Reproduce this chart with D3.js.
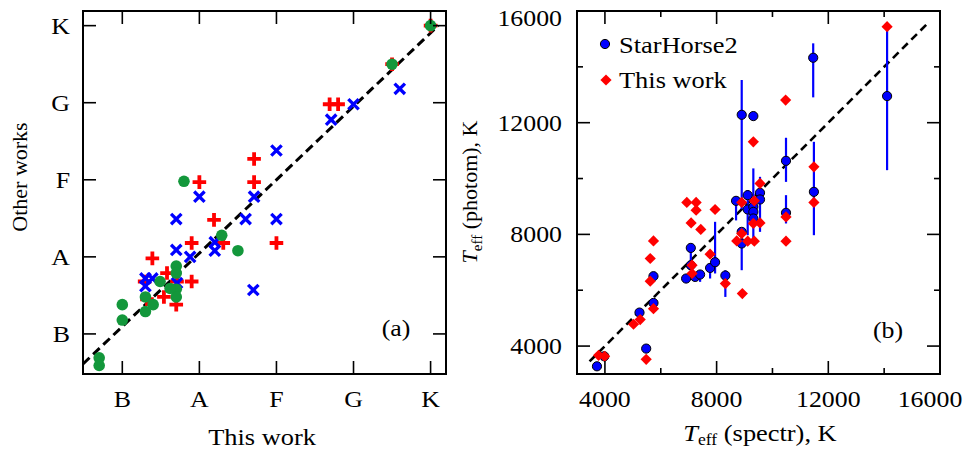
<!DOCTYPE html>
<html><head><meta charset="utf-8">
<script src="https://cdn.jsdelivr.net/npm/d3@7"></script>
<style>
html,body{margin:0;padding:0;background:#fff;}
text{font-family:"Liberation Serif","Times New Roman",serif;fill:#000;}
</style></head>
<body><svg id="c" width="966" height="451"></svg>
<script>
// ---------- data: panel (a) spectral classes (B=1, A=2, F=3, G=4, K=5) ----------
const classLabels = ["B","A","F","G","K"];
const classTicks = [1,2,3,4,5];
// [this work, other works]
const greenPts = [[0.70,0.69],[0.70,0.59],[1.0,1.38],[1.0,1.18],[1.30,1.48],[1.30,1.29],[1.40,1.38],
  [1.49,1.68],[1.70,1.88],[1.70,1.79],[1.70,1.58],[1.70,1.48],[1.62,1.59],[1.80,2.98],[2.29,2.28],
  [2.50,2.08],[4.50,4.50],[5.0,5.0]];
const redPts = [[1.29,1.68],[1.32,1.45],[1.39,1.98],[1.54,1.48],[1.58,1.79],[1.70,1.38],[1.71,1.68],
  [1.90,1.68],[1.90,2.18],[2.00,2.97],[2.19,2.48],[2.31,2.18],[2.71,3.27],[2.71,2.97],[3.0,2.18],
  [3.69,3.98],[3.80,3.98],[4.5,4.5],[5.0,5.0]];
const bluePts = [[1.30,1.72],[1.30,1.62],[1.39,1.72],[1.71,1.66],[1.70,2.09],[1.88,2.0],[2.00,2.78],
  [1.70,2.49],[2.20,2.19],[2.20,2.08],[2.60,2.49],[2.71,2.78],[2.70,1.57],[3.0,2.49],[3.0,3.38],
  [3.71,3.78],[4.0,3.98],[4.60,4.18]];
const lineA = [[0.49,0.61],[5.1,5.0]];

// ---------- data: panel (b) Teff ----------
const teffTicks = [4000,8000,12000,16000];
const teffMinor = [6000,10000,14000];
// StarHorse2: [Teff spectr, Teff photom, err low, err high]
const starHorse = [
  [3715,3276,null,null],[3976,3634,null,null],[5238,5200,null,null],[5478,3910,null,null],
  [5739,5545,null,null],[5739,6502,null,null],[6908,6419,null,null],[7076,7516,6896,7600],
  [7076,6896,null,null],[7230,6477,null,null],[7408,6563,6300,6650],[7766,6799,6420,6800],
  [7945,7004,6600,8450],[8313,6527,5760,6717],[8696,9201,8500,9201],[8899,12283,8900,13530],
  [8899,8090,null,null],[8899,7674,6717,8090],[9113,9405,7971,9584],[9113,8892,null,null],
  [9315,12237,null,null],[9315,8986,7792,10363],[9315,8806,null,null],[9315,8569,null,null],
  [9554,9488,null,null],[9554,9250,8090,10061],[10485,10634,9880,11460],[10485,8771,8391,9405],
  [11484,9523,7971,11315],[11459,14326,12907,14842],[14105,12953,10300,15400]];
// This work: [Teff spectr, Teff photom]
const thisWork = [
  [3773,3670],[3988,3634],[5478,3527],[5024,4781],[5263,4950],[5739,5340],[5622,6323],[5622,7136],
  [5739,7767],[6933,9143],[7266,9143],[7266,8867],[7087,8412],[7433,8176],[7945,8892],[7120,6896],
  [7120,6600],[7766,7292],[8313,6240],[8921,5882],[8720,7767],[9113,7756],[9350,7756],[8899,8030],
  [8899,9143],[9350,9201],[9554,9824],[9554,8412],[9315,8391],[9315,11315],[10472,12810],[10485,8627],
  [10485,7756],[11484,10419],[11484,9143],[14105,15437]];
const lineB = [[3450,3450],[15520,15520]];
const legendItems = ["StarHorse2","This work"];

// ---------- drawing ----------
const svg = d3.select("#c");
svg.append("rect").attr("width",966).attr("height",451).attr("fill","#fff");
const GREEN="#13973b", RED="#ff0000", BLUE="#0000ff";
const FS=23.5, SX=1.1;

function txt(g,x,y,str,size,anchor){
  return g.append("text").attr("transform",`translate(${x},${y}) scale(${SX},1)`)
    .attr("text-anchor",anchor||"start").attr("font-size",size).text(str);
}

// Panel (a)
const xA = d3.scaleLinear().domain([0.49,5.2]).range([83,446]);
const yA = d3.scaleLinear().domain([0.48,5.19]).range([374,11]);
const gA = svg.append("g");
function frameTicks(g,x,y,major,minor){
  const [x0,x1]=x.range(), [y0,y1]=y.range();
  const L=13, l=6;
  const tick=(a,b,c,d)=>g.append("line").attr("x1",a).attr("y1",b).attr("x2",c).attr("y2",d).attr("stroke","#000").attr("stroke-width",1.6);
  major.forEach(v=>{
    tick(x(v),y0,x(v),y0-L); tick(x(v),y1,x(v),y1+L);
    tick(x0,y(v),x0+L,y(v)); tick(x1,y(v),x1-L,y(v));
  });
  (minor||[]).forEach(v=>{
    tick(x(v),y0,x(v),y0-l); tick(x(v),y1,x(v),y1+l);
    tick(x0,y(v),x0+l,y(v)); tick(x1,y(v),x1-l,y(v));
  });
  g.append("rect").attr("x",x0).attr("y",y1).attr("width",x1-x0).attr("height",y0-y1)
    .attr("fill","none").attr("stroke","#000").attr("stroke-width",2);
}
const line = d3.line();
gA.append("path").attr("d",line(lineA.map(d=>[xA(d[0]),yA(d[1])])))
  .attr("stroke","#000").attr("stroke-width",3).attr("stroke-dasharray","9,5").attr("fill","none");
redPts.forEach(d=>{
  const cx=xA(d[0]), cy=yA(d[1]), s=6.8;
  gA.append("path").attr("d",`M${cx-s},${cy}H${cx+s}M${cx},${cy-s}V${cy+s}`)
    .attr("stroke",RED).attr("stroke-width",3.8).attr("fill","none");
});
bluePts.forEach(d=>{
  const cx=xA(d[0]), cy=yA(d[1]), s=5.2;
  gA.append("path").attr("d",`M${cx-s},${cy-s}L${cx+s},${cy+s}M${cx-s},${cy+s}L${cx+s},${cy-s}`)
    .attr("stroke",BLUE).attr("stroke-width",3.3).attr("fill","none");
});
gA.selectAll("circle.g").data(greenPts).join("circle").attr("class","g")
  .attr("cx",d=>xA(d[0])).attr("cy",d=>yA(d[1])).attr("r",5.8).attr("fill",GREEN);
frameTicks(gA,xA,yA,classTicks);
classTicks.forEach((v,i)=>{
  txt(gA,xA(v),407,classLabels[i],FS,"middle");
  txt(gA,70,yA(v)+8,classLabels[i],FS,"end");
});
txt(gA,262,445,"This work",24,"middle");
gA.append("text").attr("transform","translate(27,177) rotate(-90)").attr("text-anchor","middle").attr("font-size",22).text("Other works");
txt(gA,396,336,"(a)",FS,"middle");

// Panel (b)
const xB = d3.scaleLinear().domain([3000,16000]).range([577,940]);
const yB = d3.scaleLinear().domain([3000,16000]).range([374,11]);
const gB = svg.append("g");
gB.append("path").attr("d",line(lineB.map(d=>[xB(d[0]),yB(d[1])])))
  .attr("stroke","#000").attr("stroke-width",2.6).attr("stroke-dasharray","8,5").attr("fill","none");
starHorse.filter(d=>d[2]!==null).forEach(d=>{
  gB.append("line").attr("x1",xB(d[0])).attr("x2",xB(d[0])).attr("y1",yB(d[2])).attr("y2",yB(d[3]))
    .attr("stroke",BLUE).attr("stroke-width",2.2);
});
gB.selectAll("circle.s").data(starHorse).join("circle").attr("class","s")
  .attr("cx",d=>xB(d[0])).attr("cy",d=>yB(d[1])).attr("r",4.6)
  .attr("fill",BLUE).attr("stroke","#000").attr("stroke-width",1);
const diamond = d3.symbol().type(d3.symbolDiamond2).size(80);
gB.selectAll("path.t").data(thisWork).join("path").attr("class","t")
  .attr("d",diamond).attr("transform",d=>`translate(${xB(d[0])},${yB(d[1])})`).attr("fill",RED);
frameTicks(gB,xB,yB,teffTicks,teffMinor);
teffTicks.forEach((v,i)=>{
  const last = i===teffTicks.length-1;
  txt(gB,xB(v)-(last?10:0),407,v,FS,"middle");
  txt(gB,562,yB(v)+8+(last?7:0),v,FS,"end");
});
function teffTitle(t,suffix,sub,dy){
  t.append("tspan").attr("font-style","italic").text("T");
  t.append("tspan").attr("font-size",sub).attr("dy",dy).text("eff");
  t.append("tspan").attr("dy",-dy).text(" "+suffix);
}
teffTitle(gB.append("text").attr("transform","translate(760,441) scale(1.1,1)").attr("text-anchor","middle").attr("font-size",24),"(spectr), K",16,4);
teffTitle(gB.append("text").attr("transform","translate(477,192) rotate(-90)").attr("text-anchor","middle").attr("font-size",22),"(photom), K",15,5);
txt(gB,888,338,"(b)",FS,"middle");
gB.append("circle").attr("cx",605).attr("cy",44).attr("r",4.6).attr("fill",BLUE).attr("stroke","#000").attr("stroke-width",1);
txt(gB,619,53,legendItems[0],24,"start");
gB.append("path").attr("d",diamond).attr("transform","translate(606,80)").attr("fill",RED);
txt(gB,619,88,legendItems[1],24,"start");
</script></body></html>
